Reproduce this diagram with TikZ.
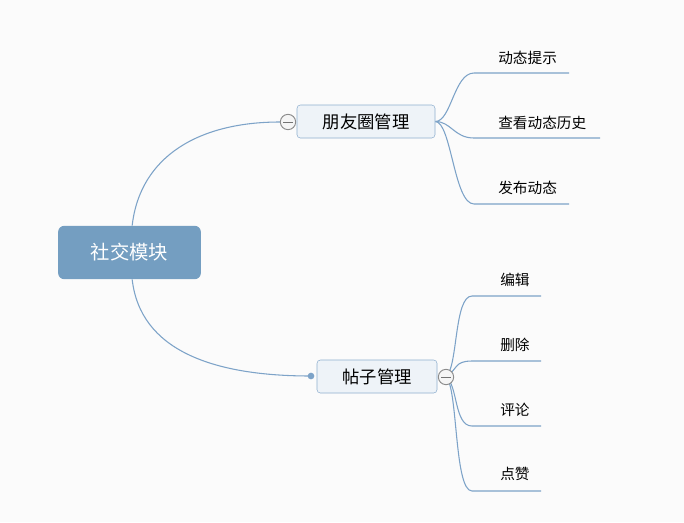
\documentclass[tikz,border=0pt]{standalone}
\usepackage{fontspec}
\newfontfamily\cjk{Noto Sans CJK SC}
\definecolor{rootblue}{RGB}{116,158,193}
\definecolor{linkblue}{RGB}{125,163,200}
\definecolor{boxfill}{RGB}{238,243,248}
\definecolor{boxline}{RGB}{142,175,207}
\pgfdeclarelayer{back}
\pgfsetlayers{back,main}

\begin{document}
\begin{tikzpicture}[x=0.75pt,y=-0.75pt,
  root/.style={rectangle, rounded corners=4.5pt, fill=rootblue, text=white, minimum width=107pt, minimum height=40pt, font=\cjk\fontsize{14.5}{16}\selectfont},
  topic/.style={rectangle, rounded corners=2.5pt, draw=boxline, fill=boxfill, minimum height=24.75pt, font=\cjk\fontsize{13}{15}\selectfont},
  leaf/.style={anchor=west, inner sep=0pt, font=\cjk\fontsize{11}{13}\selectfont},
  link/.style={draw=linkblue, line width=0.8pt},
  toggle/.style={circle, draw=black!45, fill=white!96!black, line width=0.7pt, minimum size=11.5pt, inner sep=0pt,
    path picture={\draw[black!55, line width=0.7pt] ([xshift=-3.6pt]path picture bounding box.center) -- ([xshift=3.6pt]path picture bounding box.center);}},
  dot/.style={circle, fill=linkblue, minimum size=5pt, inner sep=0pt}]

  \begin{pgfonlayer}{back}
    \fill[white!98.5!black] (0,0) rectangle (684,522);
  \end{pgfonlayer}
  \useasboundingbox (0,0) rectangle (684,522);

  \node[root] (root) at (129.5,252.5) {社交模块};
  \node[topic, minimum width=103.5pt] (moments) at (366,121.5) {朋友圈管理};
  \node[topic, minimum width=90pt] (posts) at (377,376.5) {帖子管理};
  \node[toggle] (c1) at (288,122) {};
  \node[toggle] (c2) at (446,377) {};
  \node[dot] (d2) at (311,376) {};

  \node[leaf] (t1) at (498,58) {动态提示};
  \node[leaf] (t2) at (498,123) {查看动态历史};
  \node[leaf] (t3) at (498,188) {发布动态};
  \node[leaf] (p1) at (500,280) {编辑};
  \node[leaf] (p2) at (500,345) {删除};
  \node[leaf] (p3) at (500,410) {评论};
  \node[leaf] (p4) at (500,474) {点赞};

  \coordinate (t1a) at (474,73);  \coordinate (t1b) at (569,73);
  \coordinate (t2a) at (474,138); \coordinate (t2b) at (600,138);
  \coordinate (t3a) at (474,204); \coordinate (t3b) at (569,204);
  \coordinate (p1a) at (472,296); \coordinate (p1b) at (541,296);
  \coordinate (p2a) at (472,361); \coordinate (p2b) at (541,361);
  \coordinate (p3a) at (472,426); \coordinate (p3b) at (541,426);
  \coordinate (p4a) at (472,491); \coordinate (p4b) at (541,491);

  \begin{pgfonlayer}{back}
    \draw[link] ([xshift=2pt]root.north) .. controls +(8,-70) and +(-80,0) .. (c1.west);
    \draw[link] ([xshift=2pt]root.south) .. controls +(8,70) and +(-100,0) .. (d2.center);

    \draw[link] (moments.east) .. controls +(16,0) and +(-20,0) .. (t1a) -- (t1b);
    \draw[link] (moments.east) .. controls +(16,0) and +(-20,0) .. (t2a) -- (t2b);
    \draw[link] (moments.east) .. controls +(16,0) and +(-20,0) .. (t3a) -- (t3b);

    \draw[link] (c2.center) .. controls +(12,-10) and +(-18,0) .. (p1a) -- (p1b);
    \draw[link] (c2.center) .. controls +(12,-8) and +(-18,0) .. (p2a) -- (p2b);
    \draw[link] (c2.center) .. controls +(12,8) and +(-18,0) .. (p3a) -- (p3b);
    \draw[link] (c2.center) .. controls +(12,10) and +(-18,0) .. (p4a) -- (p4b);
  \end{pgfonlayer}

\end{tikzpicture}
\end{document}
